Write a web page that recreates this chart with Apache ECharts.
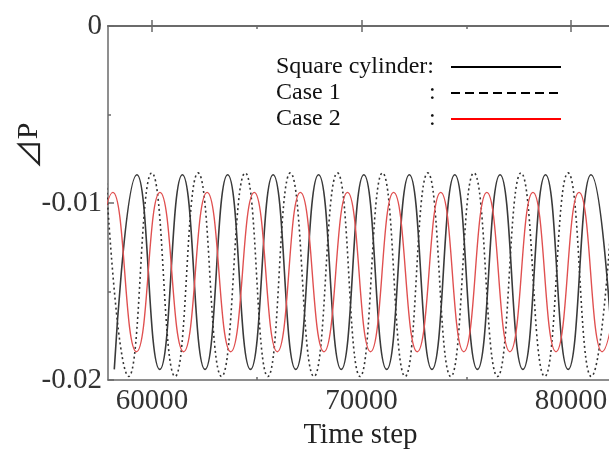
<!DOCTYPE html>
<html>
<head>
<meta charset="utf-8">
<script src="https://cdn.jsdelivr.net/npm/echarts@6/dist/echarts.min.js"></script>
<style>
  html, body { margin: 0; padding: 0; background: #fff; }
  #chart { width: 609px; height: 450px; }
</style>
</head>
<body>
<div id="chart"></div>
<script>
// extrema: [time step, dP]
const squareCylinder = [
  [58200, -0.0194], [59280, -0.0084], [60370, -0.0194], [61450, -0.0084],
  [62530, -0.0194], [63610, -0.0084], [64700, -0.0194], [65780, -0.0084],
  [66860, -0.0194], [67950, -0.0084], [69030, -0.0194], [70110, -0.0084],
  [71200, -0.0194], [72280, -0.0084], [73360, -0.0194], [74450, -0.0084],
  [75530, -0.0194], [76610, -0.0084], [77700, -0.0194], [78780, -0.0084],
  [79860, -0.0194], [80950, -0.0084], [82030, -0.0194]
];
const case1 = [
  [57790, -0.0083], [58890, -0.0198], [59990, -0.0083], [61100, -0.0198],
  [62200, -0.0083], [63320, -0.0198], [64450, -0.0083], [65530, -0.0198],
  [66600, -0.0083], [67730, -0.0198], [68850, -0.0083], [69930, -0.0198],
  [71000, -0.0083], [72080, -0.0198], [73160, -0.0083], [74260, -0.0198],
  [75360, -0.0083], [76490, -0.0198], [77610, -0.0083], [78740, -0.0198],
  [79860, -0.0083], [80960, -0.0198], [82070, -0.0083]
];
const case2 = [
  [57010, -0.0184], [58134, -0.0094], [59260, -0.0184], [60380, -0.0094],
  [61510, -0.0184], [62630, -0.0094], [63760, -0.0184], [64880, -0.0094],
  [65980, -0.0184], [67080, -0.0094], [68210, -0.0184], [69330, -0.0094],
  [70430, -0.0184], [71530, -0.0094], [72660, -0.0184], [73780, -0.0094],
  [74880, -0.0184], [75980, -0.0094], [77080, -0.0184], [78180, -0.0094],
  [79280, -0.0184], [80380, -0.0094], [81480, -0.0184], [82600, -0.0094]
];
const legendNames = ['Square cylinder', 'Case 1', 'Case 2'];
const xTicks = [60000, 70000, 80000];
const xMinorTicks = [65000, 75000];
const yTicks = [0, -0.01, -0.02];

const serif = "'Liberation Serif', 'DejaVu Serif', serif";
const axisGray = '#6a6a6a';
const X_MIN = 57900, X_MAX = 82000;

const chart = echarts.init(document.getElementById('chart'));

const axisLine = { lineStyle: { color: axisGray, width: 1.5 } };

function xAxisFor(position, values, tickLen, withLabels) {
  return {
    type: 'value', min: X_MIN, max: X_MAX, position: position,
    axisLine: axisLine,
    axisTick: { inside: true, length: tickLen, customValues: values,
      lineStyle: { color: axisGray, width: 1.5 } },
    axisLabel: withLabels ? {
      customValues: values, margin: 7,
      fontFamily: serif, fontSize: 29, color: '#333',
      formatter: v => String(v)
    } : { show: false },
    splitLine: { show: false }
  };
}

const bottomAxis = xAxisFor('bottom', xTicks, 6, true);
bottomAxis.name = 'Time step';
bottomAxis.nameLocation = 'middle';
bottomAxis.nameGap = 37;
bottomAxis.nameTextStyle = { fontFamily: serif, fontSize: 29, color: '#222' };

chart.setOption({
  animation: false,
  backgroundColor: '#fff',
  grid: { left: 108, right: -4, top: 26, bottom: 70, outerBoundsMode: 'none', containLabel: false },
  xAxis: [
    bottomAxis,
    xAxisFor('bottom', xMinorTicks, 3, false),
    xAxisFor('top', xTicks, 6, false),
    xAxisFor('top', xMinorTicks, 3, false)
  ],
  yAxis: {
    type: 'value', min: -0.02, max: 0, interval: 0.01,
    axisLine: axisLine,
    axisTick: { inside: true, length: 6, lineStyle: { color: axisGray, width: 1.5 } },
    minorTick: { show: true, splitNumber: 2, length: 3, lineStyle: { color: axisGray, width: 1.5 } },
    splitLine: { show: false },
    axisLabel: {
      margin: 6, fontFamily: serif, fontSize: 29, color: '#333',
      formatter: v => {
        const t = yTicks.find(k => Math.abs(k - v) < 1e-9);
        return t === undefined ? '' : (t === 0 ? '0' : String(t));
      }
    }
  },
  legend: {
    orient: 'vertical', left: 271, top: 50, align: 'right',
    itemWidth: 110, itemHeight: 14, itemGap: 2,
    itemStyle: { opacity: 0 },
    textStyle: {
      fontFamily: serif, fontSize: 24, color: '#111', lineHeight: 24,
      rich: {
        a: { width: 153, align: 'left', fontFamily: serif, fontSize: 24, color: '#111' },
        b: { width: 17, align: 'left', fontFamily: serif, fontSize: 24, color: '#111' },
        s: { width: 170, align: 'left', fontFamily: serif, fontSize: 24, color: '#111' }
      }
    },
    formatter: name => name === legendNames[0] ? '{s|' + name + ':}' : '{a|' + name + '}{b|:}',
    data: [
      { name: legendNames[0], itemStyle: { opacity: 0 }, lineStyle: { color: '#000', width: 2, type: 'solid' } },
      { name: legendNames[1], itemStyle: { opacity: 0 }, lineStyle: { color: '#000', width: 2, type: [9, 5] } },
      { name: legendNames[2], itemStyle: { opacity: 0 }, lineStyle: { color: '#f00', width: 2, type: 'solid' } }
    ]
  },
  graphic: [{
    type: 'text', x: 29, y: 146, rotation: Math.PI / 2,
    style: {
      text: '{t|⊿}{p|P}', align: 'center', verticalAlign: 'middle',
      rich: {
        t: { fontFamily: "'Noto Sans CJK JP', 'DejaVu Sans'", fontSize: 30, fill: '#222' },
        p: { fontFamily: serif, fontSize: 30, fill: '#222' }
      }
    }
  }],
  series: [
    {
      name: legendNames[0], type: 'line', data: squareCylinder,
      smooth: 0.5, smoothMonotone: 'x', symbol: 'none', clip: true,
      lineStyle: { color: '#3a3a3a', width: 1.6 }, itemStyle: { color: '#000' }
    },
    {
      name: legendNames[1], type: 'line', data: case1,
      smooth: 0.5, smoothMonotone: 'x', symbol: 'none', clip: true,
      lineStyle: { color: '#333', width: 1.6, type: [2, 3] }, itemStyle: { color: '#000' }
    },
    {
      name: legendNames[2], type: 'line', data: case2,
      smooth: 0.5, smoothMonotone: 'x', symbol: 'none', clip: true,
      lineStyle: { color: '#e05050', width: 1.4 }, itemStyle: { color: '#f00' }
    }
  ]
});
</script>
</body>
</html>
